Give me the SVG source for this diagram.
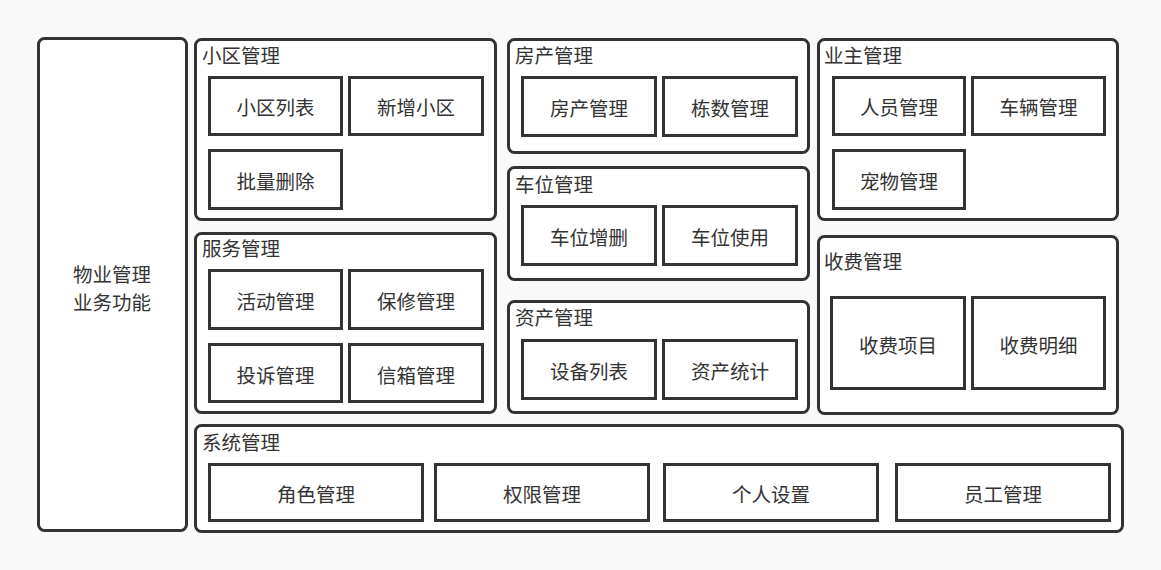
<svg xmlns="http://www.w3.org/2000/svg" width="1161" height="570" viewBox="0 0 1161 570">
<style>
.c{fill:#fff;stroke:#333;stroke-width:3}
.b{fill:#fff;stroke:#333;stroke-width:3}
text{font-family:"Noto Sans CJK SC","Noto Sans",sans-serif;font-size:19.5px;fill:#333}
.m{text-anchor:middle;dominant-baseline:central}
</style>
<rect width="1161" height="570" fill="#f9f9f9"/>
<g id="root"><rect class="c" x="38.5" y="38.5" width="148" height="492" rx="6"/><text class="m" x="112" y="273">物业管理</text><text class="m" x="112" y="301.5">业务功能</text></g>
<g id="xiaoqu"><rect class="c" x="195.5" y="39.5" width="300" height="180" rx="6"/><text x="202" y="63">小区管理</text>
<g id="xq1"><rect class="b" x="209.5" y="77.5" width="132" height="57"/><text class="m" x="275.5" y="106">小区列表</text></g>
<g id="xq2"><rect class="b" x="349.5" y="77.5" width="133" height="57"/><text class="m" x="416" y="106">新增小区</text></g>
<g id="xq3"><rect class="b" x="209.5" y="150.5" width="132" height="58"/><text class="m" x="275.5" y="180">批量删除</text></g>
</g>
<g id="fuwu"><rect class="c" x="195.5" y="233.5" width="300" height="179" rx="6"/><text x="202" y="256">服务管理</text>
<g id="fw1"><rect class="b" x="209.5" y="270.5" width="132" height="58"/><text class="m" x="275.5" y="300">活动管理</text></g>
<g id="fw2"><rect class="b" x="349.5" y="270.5" width="133" height="58"/><text class="m" x="416" y="300">保修管理</text></g>
<g id="fw3"><rect class="b" x="209.5" y="344.5" width="132" height="57"/><text class="m" x="275.5" y="374">投诉管理</text></g>
<g id="fw4"><rect class="b" x="349.5" y="344.5" width="133" height="57"/><text class="m" x="416" y="374">信箱管理</text></g>
</g>
<g id="fangchan"><rect class="c" x="508.5" y="39.5" width="300" height="113" rx="6"/><text x="515" y="63">房产管理</text>
<g id="fc1"><rect class="b" x="522.5" y="77.5" width="133" height="58"/><text class="m" x="589" y="107">房产管理</text></g>
<g id="fc2"><rect class="b" x="663.5" y="77.5" width="133" height="58"/><text class="m" x="730" y="107">栋数管理</text></g>
</g>
<g id="chewei"><rect class="c" x="508.5" y="167.5" width="300" height="112" rx="6"/><text x="515" y="192">车位管理</text>
<g id="cw1"><rect class="b" x="522.5" y="206.5" width="133" height="58"/><text class="m" x="589" y="236">车位增删</text></g>
<g id="cw2"><rect class="b" x="663.5" y="206.5" width="133" height="58"/><text class="m" x="730" y="236">车位使用</text></g>
</g>
<g id="zichan"><rect class="c" x="508.5" y="301.5" width="300" height="111" rx="6"/><text x="515" y="325">资产管理</text>
<g id="zc1"><rect class="b" x="522.5" y="340.5" width="133" height="58"/><text class="m" x="589" y="370">设备列表</text></g>
<g id="zc2"><rect class="b" x="663.5" y="340.5" width="133" height="58"/><text class="m" x="730" y="370">资产统计</text></g>
</g>
<g id="yezhu"><rect class="c" x="818.5" y="39.5" width="299" height="180" rx="6"/><text x="824" y="63">业主管理</text>
<g id="yz1"><rect class="b" x="833.5" y="77.5" width="131" height="57"/><text class="m" x="899" y="106">人员管理</text></g>
<g id="yz2"><rect class="b" x="972.5" y="77.5" width="132" height="57"/><text class="m" x="1038.5" y="106">车辆管理</text></g>
<g id="yz3"><rect class="b" x="833.5" y="150.5" width="131" height="58"/><text class="m" x="899" y="180">宠物管理</text></g>
</g>
<g id="shoufei"><rect class="c" x="818.5" y="236.5" width="299" height="177" rx="6"/><text x="824" y="269">收费管理</text>
<g id="sf1"><rect class="b" x="831.5" y="297.5" width="133" height="91"/><text class="m" x="898" y="344">收费项目</text></g>
<g id="sf2"><rect class="b" x="972.5" y="297.5" width="132" height="91"/><text class="m" x="1038.5" y="344">收费明细</text></g>
</g>
<g id="xitong"><rect class="c" x="195.5" y="425.5" width="927" height="106" rx="6"/><text x="202" y="450">系统管理</text>
<g id="xt1"><rect class="b" x="209.5" y="464.5" width="213" height="56"/><text class="m" x="316" y="493">角色管理</text></g>
<g id="xt2"><rect class="b" x="435.5" y="464.5" width="213" height="56"/><text class="m" x="542" y="493">权限管理</text></g>
<g id="xt3"><rect class="b" x="664.5" y="464.5" width="213" height="56"/><text class="m" x="771" y="493">个人设置</text></g>
<g id="xt4"><rect class="b" x="896.5" y="464.5" width="213" height="56"/><text class="m" x="1003" y="493">员工管理</text></g>
</g>
<g id="connectors"/>
</svg>
